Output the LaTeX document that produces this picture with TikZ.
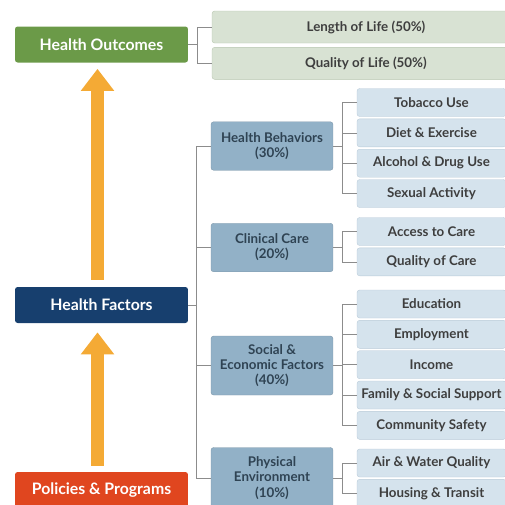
\documentclass[tikz,border=0pt]{standalone}
\usepackage{fontspec}
\setmainfont{Lato}
\usetikzlibrary{positioning,arrows.meta}
\definecolor{outgreen}{HTML}{6B9A48}
\definecolor{facnavy}{HTML}{173F6E}
\definecolor{polred}{HTML}{E0461F}
\definecolor{uparrow}{HTML}{F4AA35}
\definecolor{midblue}{HTML}{92B1C7}
\definecolor{midtext}{HTML}{2F4353}
\definecolor{leafblue}{HTML}{D5E3ED}
\definecolor{leafline}{HTML}{B8CAD8}
\definecolor{leafgreen}{HTML}{D8E2D3}
\definecolor{greenline}{HTML}{B6C5AE}
\definecolor{leaftext}{HTML}{3E3E3E}
\definecolor{linkgrey}{HTML}{8C8C8C}
\begin{document}
\begin{tikzpicture}[x=0.02cm, y=-0.02cm,
  every node/.style={rounded corners=1.5pt, align=center, inner sep=1pt,
    font=\fontsize{7.6}{8.6}\selectfont\bfseries},
  mainbox/.style={fill=#1, text=white, minimum width=3.46cm, minimum height=0.72cm,
    font=\fontsize{9}{10}\selectfont\bfseries},
  midbox/.style={fill=midblue, draw=midblue!85!black, very thin, text=midtext,
    minimum width=2.44cm, minimum height=0.97cm},
  leafbox/.style={fill=leafblue, draw=leafline, very thin, text=leaftext,
    minimum width=2.98cm, minimum height=0.56cm},
  outleaf/.style={fill=leafgreen, draw=greenline, very thin, text=leaftext,
    minimum width=6.16cm, minimum height=0.64cm},
  link/.style={draw=linkgrey, thin},
  bigarrow/.style={draw=uparrow, line width=0.28cm,
    -{Triangle[width=0.64cm, length=0.44cm]}}
]
\useasboundingbox (0,0) rectangle (505,505);
\clip (0,0) rectangle (505,505);

% main column
\node[mainbox=outgreen] (ho) at (101.5,44.5) {Health Outcomes};
\node[mainbox=facnavy]  (hf) at (101.5,305) {Health Factors};
\node[mainbox=polred]   (pp) at (101.5,490) {Policies \& Programs};

\draw[bigarrow, shorten <=0.14cm, shorten >=0.12cm]
  ([xshift=-0.08cm]hf.north) -- ([xshift=-0.08cm]ho.south);
\draw[bigarrow, shorten <=0.12cm, shorten >=0.18cm]
  ([xshift=-0.08cm]pp.north) -- ([xshift=-0.08cm]hf.south);

% outcomes
\node[outleaf] (lol) at (366,27) {Length of Life (50\%)};
\node[outleaf] (qol) [below=0.08cm of lol] {Quality of Life (50\%)};

% factor groups
\node[midbox] (hb) at (272,146) {Health Behaviors\\(30\%)};
\node[midbox] (cc) at (272,247.5) {Clinical Care\\(20\%)};
\node[midbox, minimum height=1.18cm] (se) at (272,365.5) {Social \&\\Economic Factors\\(40\%)};
\node[midbox, minimum height=1.22cm] (pe) at (272,478) {Physical\\Environment\\(10\%)};

% leaves
\node[leafbox] (tob) at (431.5,102.5) {Tobacco Use};
\node[leafbox] (die) [below=0.04cm of tob] {Diet \& Exercise};
\node[leafbox] (alc) [below=0.04cm of die] {Alcohol \& Drug Use};
\node[leafbox] (sex) [below=0.04cm of alc] {Sexual Activity};

\node[leafbox] (acc) at (431.5,231.5) {Access to Care};
\node[leafbox] (qoc) [below=0.04cm of acc] {Quality of Care};

\node[leafbox] (edu) at (431.5,304) {Education};
\node[leafbox] (emp) [below=0.04cm of edu] {Employment};
\node[leafbox] (inc) [below=0.04cm of emp] {Income};
\node[leafbox] (fam) [below=0.04cm of inc] {Family \& Social Support};
\node[leafbox] (com) [below=0.04cm of fam] {Community Safety};

\node[leafbox] (air) at (431.5,463) {Air \& Water Quality};
\node[leafbox] (hou) [below=0.04cm of air] {Housing \& Transit};

% brackets
\draw[link] (ho.east) -- ++(9,0) coordinate (hoj);
\draw[link] (hoj |- lol.west) -- (lol.west);
\draw[link] (hoj |- qol.west) -- (qol.west);
\draw[link] (hoj |- lol.west) -- (hoj |- qol.west);

\draw[link] (hf.east) -- ++(8,0) coordinate (hfj);
\draw[link] (hfj |- hb.west) -- (hfj |- pe.west);
\foreach \m in {hb,cc,se,pe}
  \draw[link] (hfj |- \m.west) -- (\m.west);

\foreach \m/\first/\last in {hb/tob/sex, cc/acc/qoc, se/edu/com, pe/air/hou} {
  \draw[link] (\m.east) -- ++(9,0) coordinate (\m j);
  \draw[link] (\m j |- \first.west) -- (\m j |- \last.west);
}
\foreach \m/\leaf in {hb/tob,hb/die,hb/alc,hb/sex,cc/acc,cc/qoc,se/edu,se/emp,se/inc,se/fam,se/com,pe/air,pe/hou}
  \draw[link] (\m j |- \leaf.west) -- (\leaf.west);
\end{tikzpicture}
\end{document}
